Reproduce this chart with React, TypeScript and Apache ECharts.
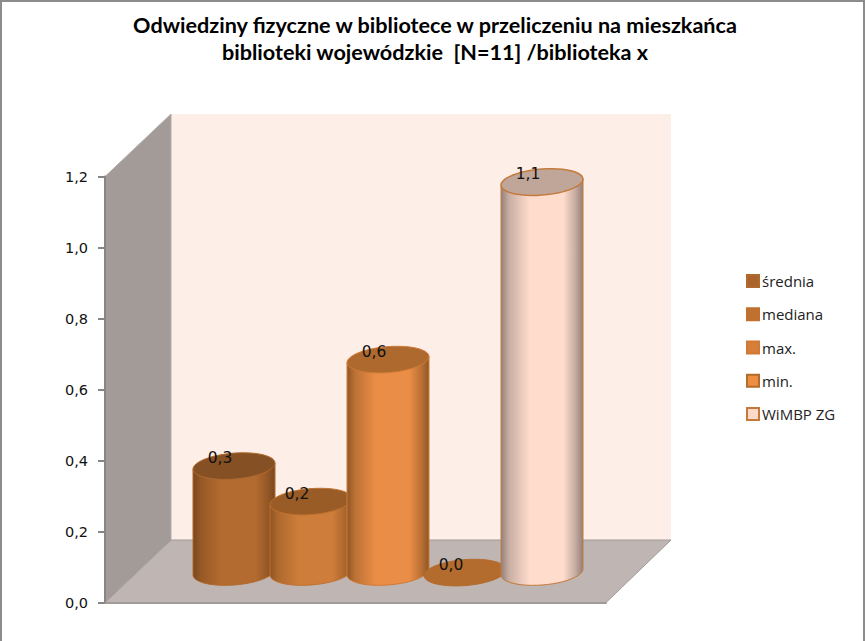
import React, { useEffect, useRef } from "react";
import * as echarts from "echarts";

const titleLines = [
  "Odwiedziny fizyczne w bibliotece w przeliczeniu na mieszkańca",
  "biblioteki wojewódzkie  [N=11] /biblioteka x",
];
const seriesNames = ["średnia", "mediana", "max.", "min.", "WiMBP ZG"];
const seriesValues = [0.3, 0.2, 0.6, 0.0, 1.1];

const palette = [
  { legend: "#aa642b", edge: "#b0692e", top: "#855024", side: "#7a471d", mid: "#b36b30" },
  { legend: "#c0712f", edge: "#c0712f", top: "#995c27", side: "#8d5423", mid: "#cf7d3a" },
  { legend: "#d67f39", edge: "#d07a36", top: "#ae6a2e", side: "#8f5624", mid: "#ea8d46" },
  { legend: "#ed8e42", edge: "#b36c2e", top: "#b36c2e", side: "#8f5624", mid: "#ea8d46" },
  { legend: "#fdd9c8", edge: "#c47a3c", top: "#bfa698", side: "#93807a", mid: "#ffdccc" },
];

const comma = (v: number) => v.toFixed(1).replace(".", ",");

const mix = (c1: string, c2: string, f: number) => {
  const n1 = parseInt(c1.slice(1), 16);
  const n2 = parseInt(c2.slice(1), 16);
  const ch = (s: number) =>
    Math.round(((n1 >> s) & 255) * (1 - f) + ((n2 >> s) & 255) * f);
  return `rgb(${ch(16)},${ch(8)},${ch(0)})`;
};

const cylinder = (seriesIndex: number) => (params: any, api: any) => {
  const cat = api.value(0);
  const val = api.value(1);
  const top = api.coord([cat, val]);
  const base = api.coord([cat, 0]);
  const cx = top[0];
  const a = 41;
  const b = 13;
  const c = 3;
  const p = palette[seriesIndex];
  const pt = (cy: number, t: number) => [cx + a * Math.cos(t), cy - c * Math.cos(t) + b * Math.sin(t)];
  const N = 48;
  const topRing: number[][] = [];
  for (let i = 0; i < N; i++) topRing.push(pt(top[1], (i / N) * 2 * Math.PI));
  const bodyPts: number[][] = [[cx - a, top[1] + c]];
  for (let i = 0; i <= N / 2; i++) bodyPts.push(pt(base[1] - 0.6, Math.PI - (i / (N / 2)) * Math.PI));
  bodyPts.push([cx + a, top[1] - c]);
  const children: any[] = [];
  if (base[1] - top[1] > 1) {
    children.push({
      type: "polygon",
      shape: { points: bodyPts },
      style: {
        fill: new echarts.graphic.LinearGradient(0, 0, 1, 0, [
          { offset: 0, color: p.side },
          { offset: 0.1, color: mix(p.side, p.mid, 0.5) },
          { offset: 0.35, color: p.mid },
          { offset: 0.76, color: p.mid },
          { offset: 0.9, color: mix(p.side, p.mid, 0.5) },
          { offset: 1, color: p.side },
        ]),
        stroke: p.edge,
        lineWidth: 1,
      },
    });
  }
  children.push({
    type: "polygon",
    shape: { points: topRing },
    style: { fill: p.top, stroke: p.edge, lineWidth: seriesIndex === 4 ? 1.5 : 1 },
  });
  children.push({
    type: "text",
    x: cx - 14,
    y: top[1] - 8,
    style: {
      text: comma(val),
      fill: "#111111",
      font: "15.5px 'DejaVu Sans'",
      align: "center",
      verticalAlign: "middle",
    },
  });
  return { type: "group", children };
};

export default function App() {
  const ref = useRef<HTMLDivElement>(null);
  useEffect(() => {
    document.body.style.margin = "0";
    const chart = echarts.init(ref.current!, null, { renderer: "svg" });
    chart.setOption({
      animation: false,
      backgroundColor: "#ffffff",
      title: {
        text: titleLines.join("\n"),
        left: 435,
        top: 6,
        textAlign: "center",
        padding: [5, 10, 5, 0],
        textStyle: {
          fontFamily: "Lato",
          fontWeight: 700,
          fontSize: 21.6,
          lineHeight: 27,
          color: "#000000",
        },
      },
      legend: {
        orient: "vertical",
        left: 746,
        top: 272,
        padding: 0,
        itemWidth: 12,
        itemHeight: 12,
        itemGap: 15.25,
        icon: "rect",
        data: seriesNames,
        textStyle: {
          fontFamily: "Open Sans",
          fontSize: 15,
          color: "#222222",
          lineHeight: 18,
          padding: [0, 0, 0, -2],
        },
      },
      grid: [
        { left: 105, top: 176.6, width: 501, height: 426 },
        { left: 195.5, top: 146.6, width: 385, height: 426 },
      ],
      xAxis: [
        {
          type: "category",
          gridIndex: 0,
          data: [""],
          axisTick: { show: false },
          axisLabel: { show: false },
          axisLine: { lineStyle: { color: "#a09a98", width: 2 } },
        },
        { type: "category", gridIndex: 1, data: seriesNames, show: false },
      ],
      yAxis: [
        {
          type: "value",
          gridIndex: 0,
          min: 0,
          max: 1.2,
          interval: 0.2,
          splitLine: { show: false },
          axisLine: { show: true, lineStyle: { color: "#868686", width: 2 } },
          axisTick: { show: true, length: 7, lineStyle: { color: "#868686", width: 2 } },
          axisLabel: {
            margin: 17,
            fontFamily: "DejaVu Sans",
            fontSize: 14.5,
            color: "#111111",
            formatter: (v: number) => comma(v),
          },
        },
        { type: "value", gridIndex: 1, min: 0, max: 1.2, show: false },
      ],
      graphic: [
        {
          type: "polyline",
          z: -10,
          shape: { points: [[1, 641], [1, 1], [864, 1], [864, 641]] },
          style: { fill: "none", stroke: "#8c8c8c", lineWidth: 2 },
        },
        {
          type: "polygon",
          z: -9,
          shape: { points: [[171, 114], [671, 114], [671, 540], [171, 540]] },
          style: { fill: "#fdeee7" },
        },
        {
          type: "polygon",
          z: -8,
          shape: { points: [[105, 176.6], [171, 114], [171, 540], [105, 602.6]] },
          style: { fill: "#a29b98", stroke: "#b4aeab", lineWidth: 1 },
        },
        {
          type: "polygon",
          z: -8,
          shape: { points: [[105, 602.6], [171, 540], [671, 540], [606, 602.6]] },
          style: { fill: "#bfb5b2", stroke: "#a09a98", lineWidth: 1 },
        },
      ],
      series: seriesNames.map((name, i) => ({
        type: "custom",
        name,
        xAxisIndex: 1,
        yAxisIndex: 1,
        z: 2 + i,
        itemStyle: {
          color: palette[i].legend,
          borderColor: palette[i].edge,
          borderWidth: 1,
        },
        encode: { x: 0, y: 1 },
        data: [[i, seriesValues[i]]],
        renderItem: cylinder(i),
      })),
    });
    return () => chart.dispose();
  }, []);
  return <div ref={ref} style={{ position: "absolute", left: 0, top: 0, width: 865, height: 641 }} />;
}
